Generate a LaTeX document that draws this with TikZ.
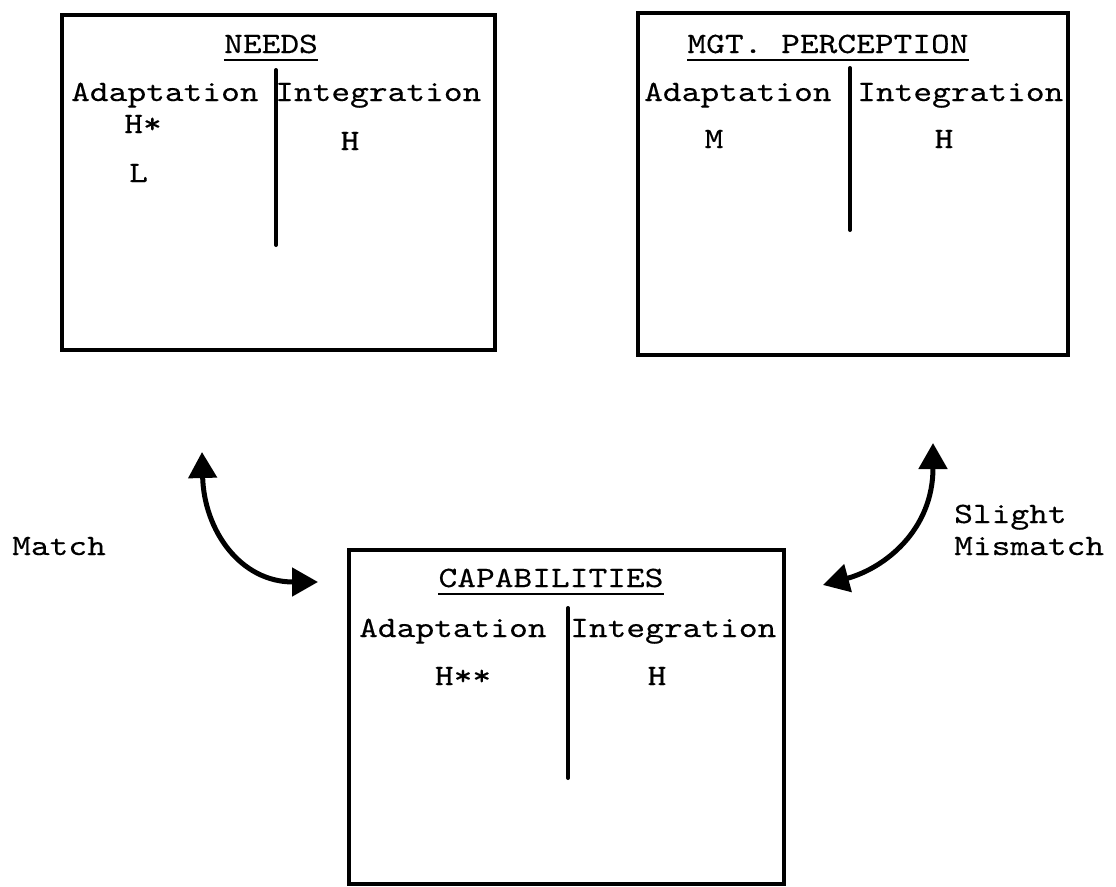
\documentclass[tikz,border=0pt]{standalone}
\usepackage{fontspec}
\setmonofont{lmmono10-regular.otf}[FakeStretch=1.21,FakeBold=0.3]
\usetikzlibrary{arrows.meta}
\begin{document}
\begin{tikzpicture}[x=1pt,y=-1pt,
  font=\ttfamily\fontsize{29.5}{32}\selectfont,
  box/.style={draw, line width=4pt, rectangle, inner sep=0pt},
  lbl/.style={inner sep=0pt, anchor=base west},
  ctr/.style={inner sep=0pt, anchor=base},
  divider/.style={line width=4pt, line cap=round},
  uline/.style={line width=1.6pt},
  arr/.style={line width=5pt, {Triangle[length=26pt,width=28pt]}-{Triangle[length=26pt,width=28pt]}}]
\useasboundingbox (0,0) rectangle (1116,886);

% boxes
\node[box, minimum width=433pt, minimum height=335pt] (needs) at (278.5,182.5) {};
\node[box, minimum width=430pt, minimum height=342pt] (mgt) at (853,184) {};
\node[box, minimum width=435pt, minimum height=334pt] (cap) at (566.5,717) {};

% NEEDS
\node[ctr] (t1) at (271,53) {NEEDS};
\draw[uline] ([yshift=-7pt]t1.base west) -- ([yshift=-7pt]t1.base east);
\coordinate (d1a) at (276,70);
\coordinate (d1b) at (276,245);
\draw[divider] (d1a) -- (d1b);
\node[lbl] (n1) at (71,101) {Adaptation};
\node[lbl] (n2) at (275,101) {Integration};
\node[ctr] (n3) at (143,133) {H*};
\node[ctr] (n4) at (138.5,182) {L};
\node[ctr] (n5) at (350,150) {H};

% MGT. PERCEPTION
\node[ctr] (t2) at (828,53) {MGT. PERCEPTION};
\draw[uline] ([yshift=-7pt]t2.base west) -- ([yshift=-7pt]t2.base east);
\coordinate (d2a) at (850,68);
\coordinate (d2b) at (850,230);
\draw[divider] (d2a) -- (d2b);
\node[lbl] (m1) at (644,101) {Adaptation};
\node[lbl] (m2) at (857,101) {Integration};
\node[ctr] (m3) at (714,148) {M};
\node[ctr] (m4) at (944,148) {H};

% CAPABILITIES
\node[ctr] (t3) at (551,587) {CAPABILITIES};
\draw[uline] ([yshift=-7pt]t3.base west) -- ([yshift=-7pt]t3.base east);
\coordinate (d3a) at (568,608);
\coordinate (d3b) at (568,778);
\draw[divider] (d3a) -- (d3b);
\node[lbl] (c1) at (359,637) {Adaptation};
\node[lbl] (c2) at (570,637) {Integration};
\node[ctr] (c3) at (463,685) {H**};
\node[ctr] (c4) at (657,685) {H};

% arrows
\coordinate (a1) at (202,452);
\coordinate (a2) at (318,582);
\draw[arr] (a1) .. controls (204,530) and (240,582) .. (a2);
\coordinate (b1) at (933,443);
\coordinate (b2) at (823,585);
\draw[arr] (b1) .. controls (933,530) and (885,568) .. (b2);

% labels
\node[lbl] (match) at (12,555) {Match};
\node[lbl] (slight) at (954,523) {Slight};
\node[lbl] (mism) at (954,555) {Mismatch};
\end{tikzpicture}
\end{document}
